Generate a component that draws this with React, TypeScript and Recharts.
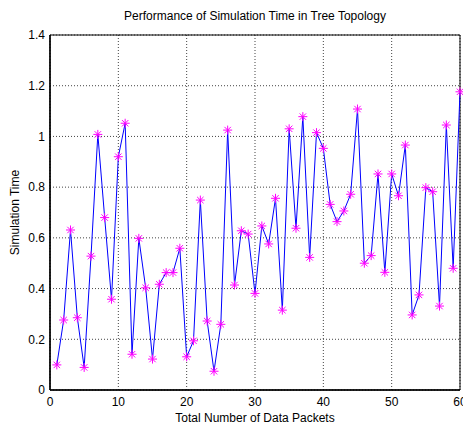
import {
  LineChart,
  Line,
  XAxis,
  YAxis,
  CartesianGrid,
  ReferenceArea
} from "recharts";

const packets = [
  1, 2, 3, 4, 5, 6, 7, 8, 9, 10, 11, 12, 13, 14, 15, 16, 17, 18, 19, 20,
  21, 22, 23, 24, 25, 26, 27, 28, 29, 30, 31, 32, 33, 34, 35, 36, 37, 38, 39, 40,
  41, 42, 43, 44, 45, 46, 47, 48, 49, 50, 51, 52, 53, 54, 55, 56, 57, 58, 59, 60
]

const simTime = [
  0.099, 0.276, 0.631, 0.285, 0.089, 0.528, 1.008, 0.68, 0.358, 0.92,
  1.052, 0.141, 0.598, 0.403, 0.122, 0.417, 0.463, 0.463, 0.559, 0.131,
  0.194, 0.749, 0.272, 0.074, 0.259, 1.025, 0.414, 0.628, 0.615, 0.381,
  0.647, 0.576, 0.756, 0.315, 1.03, 0.638, 1.078, 0.523, 1.015, 0.953,
  0.732, 0.664, 0.706, 0.772, 1.108, 0.5, 0.53, 0.852, 0.464, 0.852,
  0.766, 0.966, 0.296, 0.375, 0.798, 0.782, 0.331, 1.045, 0.48, 1.176
]

const xTicks = [0, 10, 20, 30, 40, 50, 60]
const yTicks = [0, 0.2, 0.4, 0.6, 0.8, 1, 1.2, 1.4]

const data = packets.map((p, i) => ({ packets: p, time: simTime[i] }))

const font = "'Liberation Sans', Arial, sans-serif"

// matlab style '*' marker
function Star(props: any) {
  const { cx, cy } = props
  if (cx == null || cy == null) return null
  const r = 4.5
  const d = 3.2
  return (
    <g stroke="#ff00ff" strokeWidth={1}>
      <line x1={cx - r} y1={cy} x2={cx + r} y2={cy} />
      <line x1={cx} y1={cy - r} x2={cx} y2={cy + r} />
      <line x1={cx - d} y1={cy - d} x2={cx + d} y2={cy + d} />
      <line x1={cx - d} y1={cy + d} x2={cx + d} y2={cy - d} />
    </g>
  )
}

export default function App() {
  return (
    <div style={{ position: "absolute", left: 0, top: 0, width: 463, height: 428, background: "#fff", fontFamily: font }}>
      <div style={{ position: "absolute", left: 50, width: 410, top: 9, textAlign: "center", fontSize: 12, color: "#000" }}>
        Performance of Simulation Time in Tree Topology
      </div>
      <LineChart
        width={463}
        height={428}
        data={data}
        margin={{ top: 35, right: 3, bottom: 0, left: 0 }}
      >
        <CartesianGrid stroke="#444" strokeDasharray="1 2" />
        <XAxis
          dataKey="packets"
          type="number"
          domain={[0, 60]}
          ticks={xTicks}
          height={38}
          tickSize={0}
          tickMargin={7}
          interval={0}
          axisLine={{ stroke: "#000", strokeWidth: 1.5 }}
          tick={{ fill: "#000", fontSize: 12, fontFamily: font }}
          label={{ value: "Total Number of Data Packets", position: "insideBottom", offset: 6, fill: "#000", fontSize: 12, fontFamily: font }}
        />
        <YAxis
          type="number"
          domain={[0, 1.4]}
          ticks={yTicks}
          width={50}
          tickSize={0}
          tickMargin={5}
          interval={0}
          axisLine={{ stroke: "#000", strokeWidth: 1.5 }}
          tick={{ fill: "#000", fontSize: 12, fontFamily: font }}
          label={{ value: "Simulation Time", angle: -90, position: "insideLeft", offset: 15, fill: "#000", fontSize: 12, fontFamily: font, style: { textAnchor: "middle" } }}
        />
        <ReferenceArea x1={0} x2={60} y1={0} y2={1.4} stroke="#000" strokeWidth={1} fill="none" fillOpacity={0} ifOverflow="visible" />
        <Line
          type="linear"
          dataKey="time"
          stroke="#0000ff"
          strokeWidth={1}
          dot={<Star />}
          activeDot={false}
          isAnimationActive={false}
        />
      </LineChart>
    </div>
  )
}
